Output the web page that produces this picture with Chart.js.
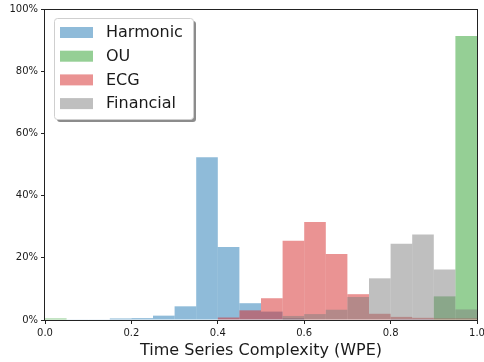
<!DOCTYPE html>
<html>
<head>
<meta charset="utf-8">
<script src="https://cdn.jsdelivr.net/npm/chart.js@4.4.1/dist/chart.umd.min.js"></script>
<style>
  html, body { margin: 0; padding: 0; background: #fff; }
  #wrap { width: 484px; height: 362px; position: relative; }
</style>
</head>
<body>
<div id="wrap"><canvas id="c" width="484" height="362"></canvas></div>
<script>
// Histogram bins: 20 bins of width 0.05 over [0, 1]; values are % of series
const binWidth = 0.05;
const binCenters = [0.025, 0.075, 0.125, 0.175, 0.225, 0.275, 0.325, 0.375, 0.425, 0.475,
                    0.525, 0.575, 0.625, 0.675, 0.725, 0.775, 0.825, 0.875, 0.925, 0.975];

const seriesNames = ['Harmonic', 'OU', 'ECG', 'Financial'];

const harmonic  = [0, 0.2, 0.2, 0.5, 0.6, 1.4, 4.4, 52.3, 23.5, 5.4,
                   2.7, 0.6, 0, 0, 0, 0, 0.3, 0.3, 0, 0];
const ou        = [0.5, 0, 0, 0, 0, 0, 0, 0, 0, 0,
                   0, 0, 0, 0, 0, 0, 0, 0, 7.6, 91.3];
const ecg       = [0, 0, 0, 0, 0, 0, 0, 0, 0.8, 3.1,
                   7.0, 25.5, 31.5, 21.2, 8.3, 2.0, 1.0, 0.7, 0.5, 0.5];
const financial = [0, 0, 0, 0, 0, 0, 0, 0, 0, 0,
                   0, 1.3, 1.9, 3.3, 7.4, 13.4, 24.5, 27.5, 16.2, 3.4];

const yTicks = [0, 20, 40, 60, 80, 100];
const xTicks = [0.0, 0.2, 0.4, 0.6, 0.8, 1.0];

const colors = ['rgba(31,119,180,0.5)', 'rgba(44,160,44,0.5)',
                'rgba(214,39,40,0.5)', 'rgba(127,127,127,0.5)'];
const allSeries = [harmonic, ou, ecg, financial];

const FONT = 'DejaVu Sans';
const TEXT = '#1a1a1a';

const datasets = allSeries.map((vals, i) => ({
  label: seriesNames[i],
  data: vals.map((v, k) => ({ x: binCenters[k], y: v })).filter(p => p.y > 0),
  backgroundColor: colors[i],
  borderWidth: 0,
  inflateAmount: 0,
  grouped: false,
  // each bar spans exactly one bin
  barPercentage: 1.0,
  categoryPercentage: 1.0,
  // later series sit on top of earlier ones
  order: allSeries.length - i
}));

// frame around the plot area
const framePlugin = {
  id: 'frame',
  afterDatasetsDraw(chart) {
    const { ctx, chartArea: a } = chart;
    ctx.save();
    ctx.strokeStyle = '#222';
    ctx.lineWidth = 1;
    const l = Math.round(a.left) - 0.5, t = Math.round(a.top) + 0.5;
    const r = Math.round(a.right) + 0.5, b = Math.round(a.bottom) + 0.5;
    ctx.strokeRect(l, t, r - l, b - t);
    ctx.restore();
  }
};

// boxed legend with drop shadow in the upper-left corner
const boxLegend = {
  id: 'boxLegend',
  afterDraw(chart) {
    const { ctx } = chart;
    const x = 54, y = 18, w = 139, h = 101;
    ctx.save();
    ctx.fillStyle = 'rgba(0,0,0,0.45)';
    roundRect(ctx, x + 3, y + 3, w, h, 3);
    ctx.fill();
    ctx.fillStyle = '#fff';
    ctx.strokeStyle = '#cfcfcf';
    ctx.lineWidth = 1;
    roundRect(ctx, x + 0.5, y + 0.5, w, h, 3);
    ctx.fill();
    ctx.stroke();
    ctx.font = '16px "' + FONT + '"';
    ctx.textBaseline = 'middle';
    chart.data.datasets.forEach((ds, i) => {
      const cy = 32 + i * 23.7;
      ctx.fillStyle = ds.backgroundColor;
      ctx.fillRect(60, cy - 5, 33, 11);
      ctx.fillStyle = TEXT;
      ctx.fillText(ds.label, 106, cy + 1);
    });
    ctx.restore();
  }
};

function roundRect(ctx, x, y, w, h, r) {
  ctx.beginPath();
  ctx.moveTo(x + r, y);
  ctx.lineTo(x + w - r, y);
  ctx.quadraticCurveTo(x + w, y, x + w, y + r);
  ctx.lineTo(x + w, y + h - r);
  ctx.quadraticCurveTo(x + w, y + h, x + w - r, y + h);
  ctx.lineTo(x + r, y + h);
  ctx.quadraticCurveTo(x, y + h, x, y + h - r);
  ctx.lineTo(x, y + r);
  ctx.quadraticCurveTo(x, y, x + r, y);
  ctx.closePath();
}

new Chart(document.getElementById('c'), {
  type: 'bar',
  data: { datasets },
  options: {
    responsive: false,
    animation: false,
    layout: { padding: { top: 9, right: 7, left: 0, bottom: 0 } },
    plugins: {
      legend: { display: false },
      tooltip: { enabled: false }
    },
    scales: {
      x: {
        type: 'linear',
        min: 0, max: 1,
        offset: false,
        afterBuildTicks(axis) { axis.ticks = xTicks.map(v => ({ value: v })); },
        afterFit(axis) {
          axis.height = 42;
          // let the end labels overhang the plot edges
          axis.paddingLeft = 0;
          axis.paddingRight = 0;
        },
        ticks: {
          callback: v => v.toFixed(1),
          font: { family: FONT, size: 10 },
          color: TEXT,
          padding: 3,
          maxRotation: 0
        },
        grid: { drawOnChartArea: false, drawTicks: true, tickLength: 4, color: '#222', offset: false },
        border: { display: false },
        title: {
          display: true,
          text: 'Time Series Complexity (WPE)',
          font: { family: FONT, size: 16 },
          color: TEXT,
          padding: { top: 0, bottom: 2 }
        }
      },
      y: {
        min: 0, max: 100,
        afterBuildTicks(axis) { axis.ticks = yTicks.map(v => ({ value: v })); },
        afterFit(axis) { axis.width = 45; },
        ticks: {
          callback: v => v + '%',
          font: { family: FONT, size: 10 },
          color: TEXT,
          padding: 3
        },
        grid: { drawOnChartArea: false, drawTicks: true, tickLength: 4, color: '#222' },
        border: { display: false }
      }
    }
  },
  plugins: [framePlugin, boxLegend]
});
</script>
</body>
</html>
